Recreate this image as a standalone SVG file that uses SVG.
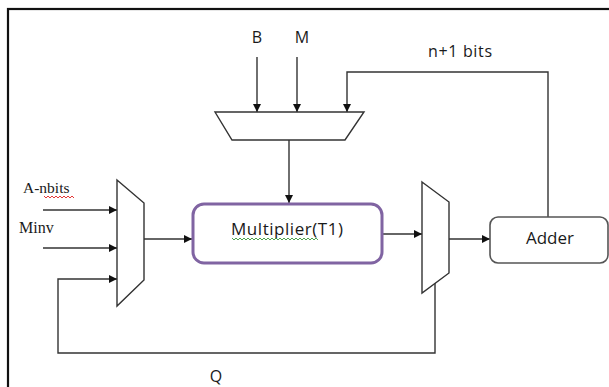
<svg xmlns="http://www.w3.org/2000/svg" width="609" height="387" viewBox="0 0 609 387">
  <style>
    .wire { fill: none; stroke: #333; stroke-width: 1.4; }
    .mux { fill: #fff; stroke: #333; stroke-width: 1.4; }
    .sans { font-family: "Open Sans", "Liberation Sans", sans-serif; fill: #1a1a1a; }
    .serif { font-family: "Liberation Serif", serif; fill: #1a1a1a; }
    .squiggle { fill: none; stroke-width: 0.9; }
  </style>
  <defs>
    <marker id="arrow" viewBox="0 0 10 10" refX="10" refY="5" markerWidth="8" markerHeight="8" markerUnits="userSpaceOnUse" orient="auto">
      <path d="M0,0 L10,5 L0,10 z" fill="#111"/>
    </marker>
  </defs>
  <rect width="609" height="387" fill="#fff"/>
  <!-- outer frame -->
  <rect x="8" y="9" width="700" height="500" fill="none" stroke="#111" stroke-width="2.2"/>

  <!-- connectors -->
  <g id="connectors">
    <line class="wire" x1="257" y1="57" x2="257" y2="112" marker-end="url(#arrow)"/>
    <line class="wire" x1="297" y1="57" x2="297" y2="112" marker-end="url(#arrow)"/>
    <polyline class="wire" points="548,217 548,72 347,72 347,112" marker-end="url(#arrow)"/>
    <line class="wire" x1="289" y1="140" x2="289" y2="203" marker-end="url(#arrow)"/>
    <line class="wire" x1="43" y1="210" x2="117" y2="210" marker-end="url(#arrow)"/>
    <line class="wire" x1="43" y1="248" x2="117" y2="248" marker-end="url(#arrow)"/>
    <polyline class="wire" points="435,283 435,353 58,353 58,279 117,279" marker-end="url(#arrow)"/>
    <line class="wire" x1="144" y1="239" x2="192" y2="239" marker-end="url(#arrow)"/>
    <line class="wire" x1="382" y1="234" x2="422" y2="234" marker-end="url(#arrow)"/>
    <line class="wire" x1="449" y1="239" x2="490" y2="239" marker-end="url(#arrow)"/>
  </g>

  <!-- input labels -->
  <text class="sans" x="257" y="43" font-size="16" text-anchor="middle">B</text>
  <text class="sans" x="302" y="43" font-size="16" text-anchor="middle">M</text>
  <text class="sans" x="428" y="57" font-size="16" textLength="64">n+1 bits</text>
  <text class="serif" x="23" y="193" font-size="15.5">A-nbits</text>
  <path class="squiggle" stroke="#e02020" d="M44,196 l2,2 l2,-2 l2,2 l2,-2 l2,2 l2,-2 l2,2 l2,-2 l2,2 l2,-2 l2,2 l2,-2 l2,2 l2,-2 l2,2"/>
  <text class="serif" x="19" y="233" font-size="16">Minv</text>
  <text class="sans" x="216" y="382" font-size="16" text-anchor="middle">Q</text>

  <!-- top selector -->
  <g id="mux-top">
    <polygon class="mux" points="215,112 364,112 345,140 232,140"/>
  </g>

  <!-- left selector -->
  <g id="mux-left">
    <polygon class="mux" points="117,180 144,203 144,280 117,306"/>
  </g>

  <!-- multiplier -->
  <g id="multiplier">
    <rect x="193" y="204" width="189" height="59" rx="11" fill="#fff" stroke="#8064a2" stroke-width="3"/>
    <text class="sans" x="231" y="235" font-size="17" textLength="112">Multiplier(T1)</text>
    <path class="squiggle" stroke="#3a9a3a" d="M232,238 l2,2 l2,-2 l2,2 l2,-2 l2,2 l2,-2 l2,2 l2,-2 l2,2 l2,-2 l2,2 l2,-2 l2,2 l2,-2 l2,2 l2,-2 l2,2 l2,-2 l2,2 l2,-2 l2,2 l2,-2 l2,2 l2,-2 l2,2 l2,-2 l2,2 l2,-2 l2,2 l2,-2 l2,2 l2,-2 l2,2 l2,-2 l2,2 l2,-2 l2,2 l2,-2 l2,2 l2,-2 l2,2 l2,-2 l2,2"/>
  </g>

  <!-- right selector -->
  <g id="mux-right">
    <polygon class="mux" points="422,182 449,202 449,273 422,293"/>
  </g>

  <!-- adder -->
  <g id="adder">
    <rect x="490" y="217" width="118" height="46" rx="8" fill="#fff" stroke="#555" stroke-width="1.6"/>
    <text class="sans" x="550" y="244" font-size="17" text-anchor="middle">Adder</text>
  </g>
</svg>
